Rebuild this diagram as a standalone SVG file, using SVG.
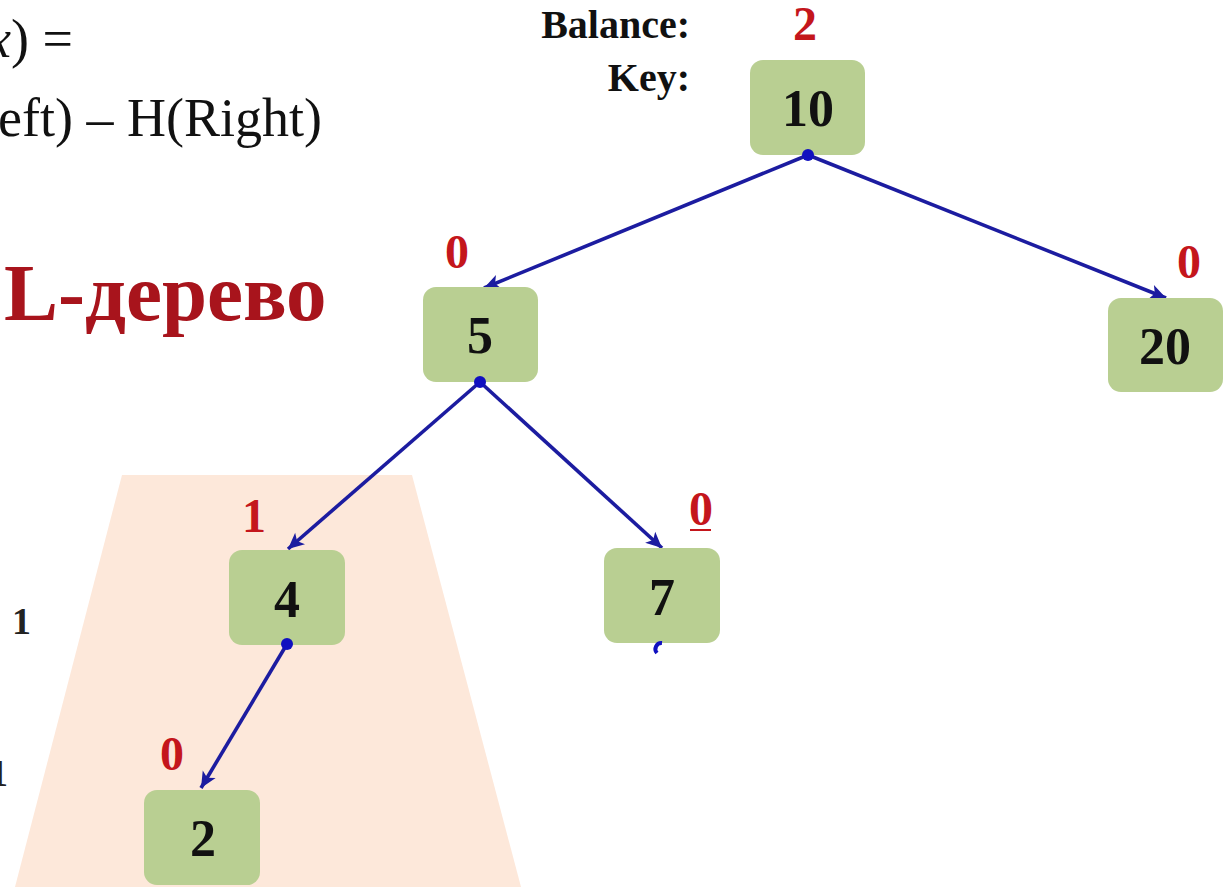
<svg xmlns="http://www.w3.org/2000/svg" width="1229" height="892" viewBox="0 0 1229 892">
  <style>
    .node rect { fill: #b9cf92; rx: 13; ry: 13; }
    .key { font-family: "Liberation Serif", serif; font-weight: bold; font-size: 52px; fill: #111; text-anchor: middle; }
    .bal { font-family: "Liberation Serif", serif; font-weight: bold; font-size: 48px; fill: #c4161c; text-anchor: middle; }
    .lbl { font-family: "Liberation Serif", serif; font-weight: bold; font-size: 40px; fill: #111; text-anchor: end; }
    .formula { font-family: "Liberation Serif", serif; font-size: 54px; fill: #111; }
    .edge { stroke: #1c1ca0; stroke-width: 3.6; fill: none; marker-end: url(#arrow); }
    .dot { fill: #1010c0; }
  </style>
  <defs>
    <marker id="arrow" viewBox="-18 -9 20 18" refX="0" refY="0" markerWidth="20" markerHeight="18" markerUnits="userSpaceOnUse" orient="auto">
      <path d="M0,0 L-16,-7.5 L-12,0 L-16,7.5 Z" fill="#1c1ca0"/>
    </marker>
  </defs>

  <rect width="1229" height="892" fill="#ffffff"/>

  <!-- highlighted subtree region -->
  <polygon points="122,475 412,475 521,887 15,887" fill="#fde8da"/>

  <!-- formula and title -->
  <text class="formula" x="-13" y="57"><tspan font-style="italic">x</tspan>) =</text>
  <text class="formula" x="-2" y="136">eft) – H(Right)</text>
  <text x="4" y="320" font-family="Liberation Serif, serif" font-weight="bold" font-size="81" fill="#a8141c">L-дерево</text>

  <!-- side numbers -->
  <text x="12" y="634" font-family="Liberation Serif, serif" font-weight="bold" font-size="38" fill="#222">1</text>
  <text x="-11" y="786" font-family="Liberation Serif, serif" font-weight="bold" font-size="38" fill="#222">1</text>

  <!-- legend -->
  <text class="lbl" x="690" y="38">Balance:</text>
  <text class="lbl" x="690" y="91">Key:</text>

  <!-- connectors -->
  <g id="edges">
    <line class="edge" x1="808" y1="155" x2="484" y2="288"/>
    <line class="edge" x1="808" y1="155" x2="1166" y2="298"/>
    <line class="edge" x1="480" y1="382" x2="288" y2="549"/>
    <line class="edge" x1="480" y1="382" x2="662" y2="548"/>
    <line class="edge" x1="287" y1="644" x2="201" y2="788"/>
  </g>

  <!-- nodes -->
  <g id="node-10" class="node">
    <rect x="750" y="60" width="115" height="95"/>
    <text class="key" x="808" y="126">10</text>
    <text class="bal" x="805" y="40">2</text>
  </g>
  <g id="node-5" class="node">
    <rect x="423" y="287" width="115" height="95"/>
    <text class="key" x="480" y="353">5</text>
    <text class="bal" x="457" y="268">0</text>
  </g>
  <g id="node-20" class="node">
    <rect x="1108" y="298" width="115" height="94"/>
    <text class="key" x="1165" y="364">20</text>
    <text class="bal" x="1189" y="278">0</text>
  </g>
  <g id="node-4" class="node">
    <rect x="229" y="550" width="116" height="95"/>
    <text class="key" x="287" y="617">4</text>
    <text class="bal" x="254" y="532">1</text>
  </g>
  <g id="node-7" class="node">
    <rect x="604" y="548" width="116" height="95"/>
    <text class="key" x="662" y="615">7</text>
    <text class="bal" x="701" y="525">0</text>
    <line x1="690" y1="530" x2="711" y2="530" stroke="#c4161c" stroke-width="2"/>
  </g>
  <g id="node-2" class="node">
    <rect x="144" y="790" width="116" height="95"/>
    <text class="key" x="203" y="856">2</text>
    <text class="bal" x="172" y="770">0</text>
  </g>

  <!-- edge start dots, drawn over node borders -->
  <g id="edge-dots">
    <circle class="dot" cx="808" cy="155" r="6"/>
    <circle class="dot" cx="480" cy="382" r="6"/>
    <circle class="dot" cx="287" cy="644" r="6"/>
    <path d="M657,653 A6,6 0 0 1 662,643" stroke="#1010c0" stroke-width="4" fill="none"/>
  </g>
</svg>
